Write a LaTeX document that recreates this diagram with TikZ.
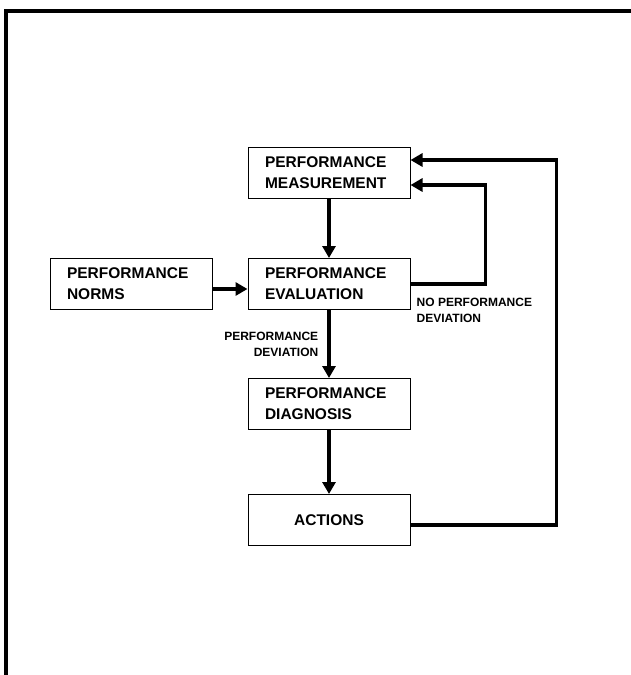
\documentclass[tikz,border=0pt]{standalone}
\usepackage{fontspec}
\setmainfont{Liberation Sans}
\usetikzlibrary{positioning, arrows.meta}

\begin{document}
\begin{tikzpicture}[
            x=1pt, y=1pt,
            node distance=59pt and 35pt,
            box/.style={draw, line width=1pt, rectangle, minimum width=162pt, minimum height=51pt, text width=128pt, inner xsep=17pt, align=left, font=\fontsize{15.5}{21}\selectfont\bfseries},
            flow/.style={line width=3.5pt, -{Triangle[length=12pt, width=13pt]}},
            note/.style={inner sep=0pt, font=\fontsize{12}{16}\selectfont\bfseries}
        ]
            % Рамка
            \useasboundingbox (0,0) rectangle (631,-675);
            \draw[line width=3.5pt] (6,-675) -- (6,-11) -- (631,-11);

            % Блоки
            \node[box] (measurement) at (329,-173) {PERFORMANCE\\MEASUREMENT};
            \node[box] (evaluation) [below=59pt of measurement] {PERFORMANCE\\EVALUATION};
            \node[box] (norms) [left=of evaluation] {PERFORMANCE\\NORMS};
            \node[box] (diagnosis) [below=68pt of evaluation] {PERFORMANCE\\DIAGNOSIS};
            \node[box, align=center] (actions) [below=64pt of diagnosis] {ACTIONS};

            % Связи
            \draw[flow] (measurement) -- (evaluation);
            \draw[flow] ([yshift=-5pt]norms.east) -- ([yshift=-5pt]evaluation.west);
            \draw[flow] (evaluation) -- node[note, left=9pt, align=right] {PERFORMANCE\\DEVIATION} (diagnosis);
            \draw[flow] (diagnosis) -- (actions);
            \draw[flow] (evaluation.east) -- ++(75pt,0) |- ([yshift=-12pt]measurement.east);
            \node[note, align=left, anchor=north west] (nodeviation) at ([xshift=6pt, yshift=-14pt]evaluation.east) {NO PERFORMANCE\\DEVIATION};
            \draw[flow] ([yshift=-5pt]actions.east) -- ++(146pt,0) |- ([yshift=13pt]measurement.east);
        \end{tikzpicture}
\end{document}
